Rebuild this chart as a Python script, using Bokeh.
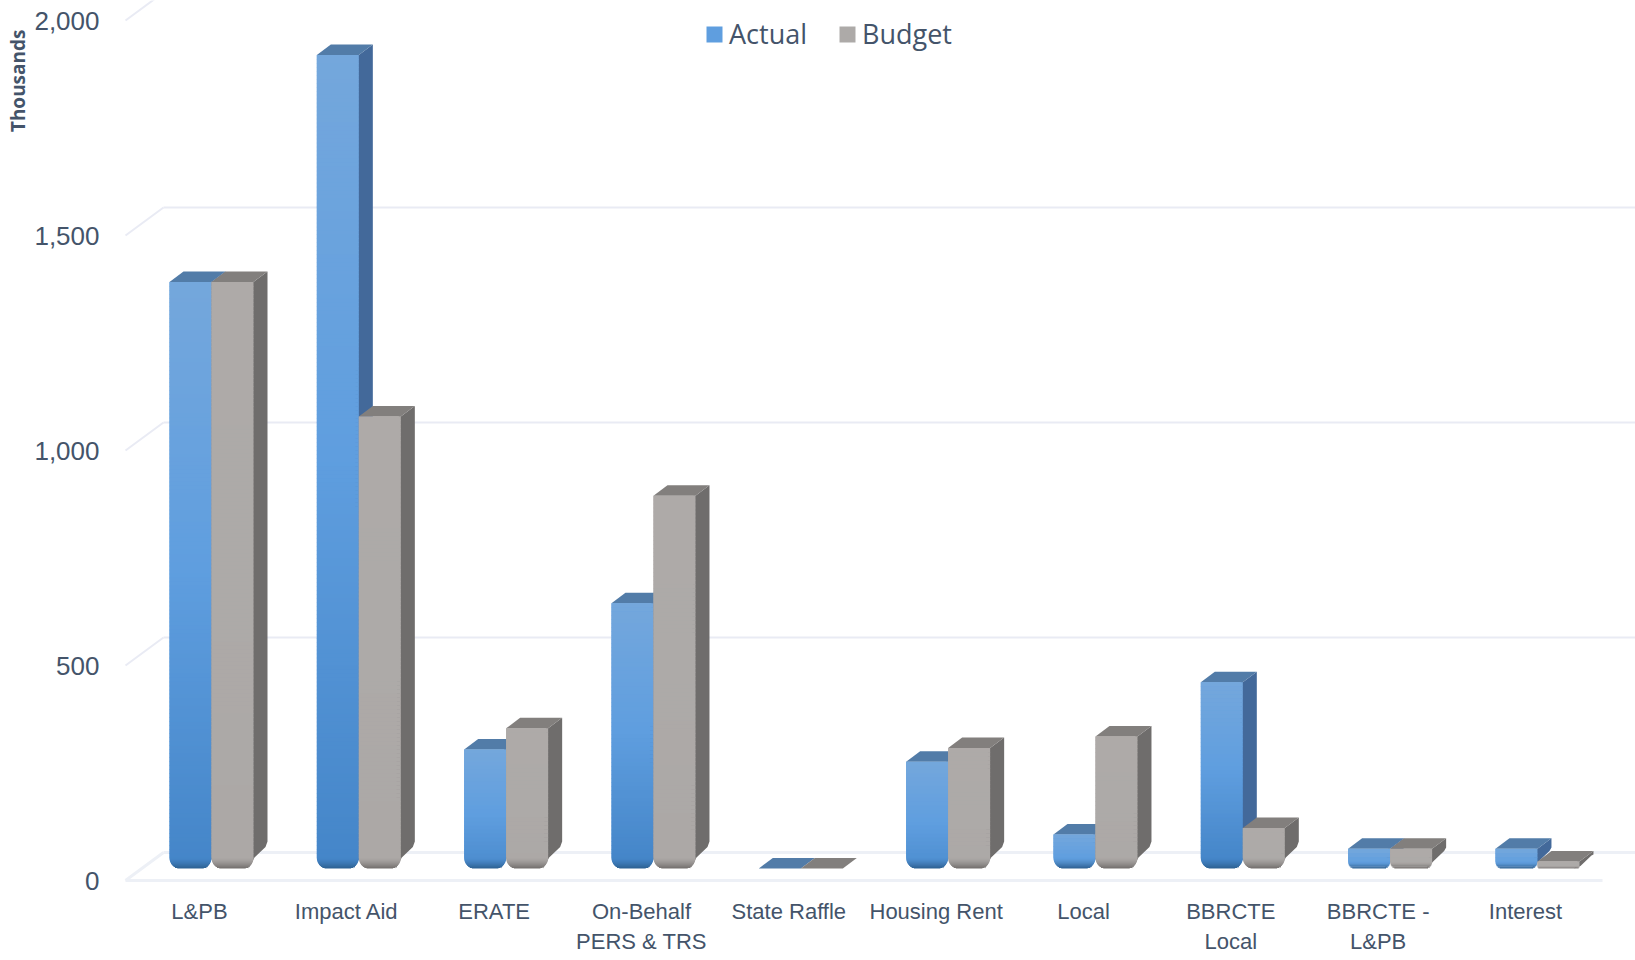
from bokeh.plotting import figure
from bokeh.models import (Range1d, FixedTicker, Legend, LegendItem, Title, NumeralTickFormatter)
from bokeh.embed import file_html
from bokeh.resources import INLINE
import math

categories = ["L&PB", "Impact Aid", "ERATE", "On-Behalf\nPERS & TRS", "State Raffle",
              "Housing Rent", "Local", "BBRCTE\nLocal", "BBRCTE -\nL&PB", "Interest"]
actual = [1364, 1892, 277, 617, 0, 248, 79, 433, 46, 46]
budget = [1364, 1051, 326, 867, 0, 280, 307, 94, 46, 16]
y_ticks = [0, 500, 1000, 1500, 2000]

# pixel scale of the chart (layout only)
PX_X = 147.33          # px per category
PX_Y = 0.43            # px per thousand-unit
X0 = 199.0             # tick 0 position
LEFT, RIGHT, TOP, BOTTOM = 115, 1635, 0, 883
ZERO_PX = 880
ux = lambda px: px / PX_X
uy = lambda px: px / PX_Y


def mix(c1, c2, t):
    a = [int(c1[i:i + 2], 16) for i in (1, 3, 5)]
    b = [int(c2[i:i + 2], 16) for i in (1, 3, 5)]
    return "#%02x%02x%02x" % tuple(round(p + (q - p) * t) for p, q in zip(a, b))


def ramp(stops, t):
    t = max(0, min(1, t))
    n = len(stops) - 1
    k = min(int(t * n), n - 1)
    return mix(stops[k], stops[k + 1], t * n - k)


p = figure(width=1635, height=960, output_backend="svg", toolbar_location=None,
           frame_width=RIGHT - LEFT, frame_height=BOTTOM - TOP,
           x_range=Range1d(ux(LEFT - X0), ux(RIGHT - X0)),
           y_range=Range1d(uy(ZERO_PX - BOTTOM), uy(ZERO_PX - TOP)),
           min_border_left=LEFT, min_border_right=0, min_border_top=0, min_border_bottom=960 - BOTTOM,
           outline_line_color=None, background_fill_color="white", border_fill_color="white")
p.grid.visible = False

ink = "#44546a"
p.yaxis.ticker = FixedTicker(ticks=y_ticks)
p.yaxis.formatter = NumeralTickFormatter(format="0,0")
p.yaxis.major_label_text_font = "Liberation Sans"
p.yaxis.major_label_text_font_size = "26px"
p.yaxis.major_label_text_color = ink
p.yaxis.major_label_standoff = 16
p.yaxis.axis_line_color = None
p.yaxis.major_tick_line_color = None
p.yaxis.major_tick_out = 0
p.yaxis.major_tick_in = 0
p.yaxis.minor_tick_line_color = None
p.yaxis.minor_tick_out = 0

p.xaxis.ticker = FixedTicker(ticks=list(range(len(categories))))
p.xaxis.major_label_overrides = {i: c for i, c in enumerate(categories)}
p.xaxis.major_label_text_font = "Liberation Sans"
p.xaxis.major_label_text_font_size = "22px"
p.xaxis.major_label_text_color = ink
p.xaxis.major_label_standoff = 15
p.xaxis.axis_line_color = None
p.xaxis.major_tick_line_color = None
p.xaxis.major_tick_out = 0
p.xaxis.major_tick_in = 0
p.xaxis.minor_tick_line_color = None
p.xaxis.minor_tick_out = 0

# floor and wall
wall_dx, wall_dy = ux(38), uy(28)
x_wall0 = ux(125 - X0)
x_end = ux(RIGHT - X0)
floor_end = ux(1602 - X0)
grid = "#e9ebf4"
sx0, sy0, sx1, sy1 = [], [], [], []
for v in y_ticks[1:]:
    sx0 += [x_wall0, x_wall0 + wall_dx]
    sy0 += [v, v + wall_dy]
    sx1 += [x_wall0 + wall_dx, x_end]
    sy1 += [v + wall_dy, v + wall_dy]
p.segment(sx0, sy0, sx1, sy1, line_color=grid, line_width=2)
p.segment([x_wall0, x_wall0, x_wall0 + wall_dx], [0, 0, wall_dy],
          [floor_end, x_wall0 + wall_dx, x_end], [0, wall_dy, wall_dy],
          line_color="#edf0f6", line_width=3)

BAR = 42
DEPTH_X, DEPTH_Y = 14, 10.5
BASE = uy(ZERO_PX - 868)           # bars stand a little behind the front edge
GROUP = 12                         # px from label centre to group centre


def bevel_of(h):
    return min(11, 0.35 * h)


def draw(values, first, front, bevel_dark, side, top_col):
    n = len(values)
    lefts = [i + ux(GROUP - BAR) if first else i + ux(GROUP) for i in range(n)]
    # the plain bars (the strips below shade them)
    r = p.quad(left=lefts, right=[l + ux(BAR) for l in lefts],
               bottom=[BASE + uy(bevel_of(v * PX_Y)) for v in values], top=[v + BASE for v in values],
               fill_color=front[1], line_color=None)
    # side and top faces
    xs, ys, cols = [], [], []
    for l, v in zip(lefts, values):
        x1 = l + ux(BAR)
        yt = v + BASE
        h = v * PX_Y
        bev = bevel_of(h)
        if h > 0:
            xs.append([x1 - ux(2), x1, x1 + ux(DEPTH_X), x1 + ux(DEPTH_X), x1 + ux(DEPTH_X - 2),
                       x1 + ux(1), x1 - ux(5)])
            ys.append([yt, yt, yt + uy(DEPTH_Y), BASE + uy(min(DEPTH_Y + 1.5 * bev, h + DEPTH_Y)),
                       BASE + uy(DEPTH_Y + bev), BASE + uy(bev), BASE])
            cols.append(side)
        xs.append([l, x1, x1 + ux(DEPTH_X), l + ux(DEPTH_X)])
        ys.append([yt, yt, yt + uy(DEPTH_Y), yt + uy(DEPTH_Y)])
        cols.append(top_col)
    p.patches(xs, ys, fill_color=cols, line_color=None)

    # shaded front faces, painted top to bottom
    ql, qr, qb, qt, qc = [], [], [], [], []
    for l, v in zip(lefts, values):
        h = v * PX_Y
        if h <= 0:
            continue
        bev = bevel_of(h)
        hi = h - bev
        steps = max(2, int(round(hi / 4)))
        span = min(1, h / 250 + 0.35)
        for s in range(steps):
            a = s / steps
            ql.append(l)
            qr.append(l + ux(BAR))
            qt.append(BASE + uy(h - a * hi))
            qb.append(BASE + uy(max(bev - 0.5, h - (a + 1 / steps) * hi - 0.5)))
            qc.append(ramp(front, (a + 0.5 / steps) * span))
        k = max(2, int(bev))
        last = ramp(front, span)
        for s in range(k):
            a0 = s / k
            d = (s + 0.5) / k * bev
            inset = bev - math.sqrt(max(0, bev * bev - d * d))
            ql.append(l + ux(inset))
            qr.append(l + ux(BAR - inset))
            qt.append(BASE + uy(bev * (1 - a0)))
            qb.append(BASE + uy(max(0, bev * (1 - a0 - 1 / k) - 0.4)))
            qc.append(mix(last, bevel_dark, (a0 + 0.5 / k) ** 1.5))
    p.quad(left=ql, right=qr, bottom=qb, top=qt, fill_color=qc, line_color=None)
    return r


# Actual first so Budget overlaps it
r_actual = draw(actual, True, ["#74a7dc", "#5f9edf", "#4586c9"], "#2c5f8f", "#43699a", "#527ca8")
r_budget = draw(budget, False, ["#aeaaa8", "#adaaa8", "#aca8a6"], "#716d6b", "#6f6d6c", "#827f7d")

legend = Legend(items=[LegendItem(label="Actual", renderers=[r_actual]),
                       LegendItem(label="Budget", renderers=[r_budget])],
                orientation="horizontal", location=(704 - LEFT, BOTTOM - 52),
                background_fill_alpha=0, border_line_color=None, padding=0, margin=0,
                spacing=30, glyph_width=20, glyph_height=20, label_standoff=5,
                label_text_font="Open Sans", label_text_font_size="27px", label_text_color=ink)
p.add_layout(legend)

p.add_layout(Title(text="Thousands", align="right", offset=29, standoff=1,
                   text_font="Open Sans", text_font_style="bold",
                   text_font_size="19px", text_color=ink), "left")

open("out.html", "w").write(file_html(p, INLINE))
